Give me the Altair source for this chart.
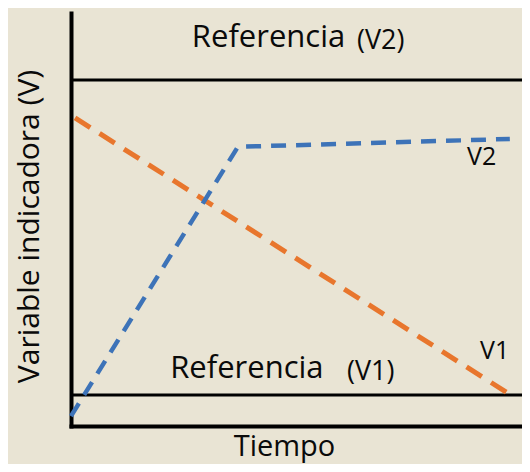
import altair as alt
import pandas as pd

# Series (x = tiempo 0-100, y = variable indicadora 0-100)
v1_time = [0.9, 96.5]
v1_value = [74.6, 8.2]
v2_time = [0.0, 37.0, 97.3]
v2_value = [2.4, 67.6, 69.5]

# Reference levels
ref_names = ["Referencia (V2)", "Referencia (V1)"]
ref_levels = [83.8, 7.5]

# Annotation texts
main_texts = ["Referencia", "Referencia"]
main_x = [26.8, 22.0]
main_y = [91.8, 11.6]
sub_texts = ["(V2)", "(V1)"]
sub_x = [63.4, 61.2]
sub_y = [91.3, 11.1]
series_texts = ["V2", "V1"]
series_x = [87.8, 90.7]
series_y = [63.2, 16.2]

FONT = "Open Sans"
BG = "#E9E4D4"
INK = "#0a0a0a"

v1_df = pd.DataFrame({"t": v1_time, "v": v1_value})
v2_df = pd.DataFrame({"t": v2_time, "v": v2_value})
ref_df = pd.DataFrame({"name": ref_names, "v": ref_levels, "t0": [0] * 2, "t1": [100] * 2})
main_df = pd.DataFrame({"txt": main_texts, "t": main_x, "v": main_y})
sub_df = pd.DataFrame({"txt": sub_texts, "t": sub_x, "v": sub_y})
ser_df = pd.DataFrame({"txt": series_texts, "t": series_x, "v": series_y})

xs = alt.Scale(domain=[0, 100], nice=False, zero=False)
ys = alt.Scale(domain=[0, 100], nice=False, zero=False)

x_axis = alt.Axis(
    title="Tiempo", labels=False, ticks=False, grid=False,
    domainColor="black", domainWidth=4, domainCap="square",
    titleFont=FONT, titleFontSize=29, titleFontWeight="normal", titleColor=INK,
    titleX=213, titleY=29, titleBaseline="alphabetic", titleAlign="center",
)
y_axis = alt.Axis(
    title="Variable indicadora (V)", labels=False, ticks=False, grid=False,
    domainColor="black", domainWidth=4, domainCap="square",
    titleFont=FONT, titleFontSize=30, titleFontWeight="normal", titleColor=INK,
    titleX=-33, titleY=213, titleAngle=-90, titleBaseline="alphabetic", titleAlign="center",
)

base_x = alt.X("t:Q", scale=xs, axis=x_axis)
base_y = alt.Y("v:Q", scale=ys, axis=y_axis)

refs = alt.Chart(ref_df).mark_rule(color="black", strokeWidth=3).encode(
    x=alt.X("t0:Q", scale=xs, axis=x_axis), x2="t1:Q", y=alt.Y("v:Q", scale=ys, axis=y_axis)
)

line_v1 = alt.Chart(v1_df).mark_line(
    color="#E8762D", strokeWidth=5, strokeDash=[18, 11], clip=False
).encode(x=base_x, y=base_y)

line_v2 = alt.Chart(v2_df).mark_line(
    color="#3D73B8", strokeWidth=4.5, strokeDash=[15, 10], clip=False
).encode(x=base_x, y=base_y)

main_txt = alt.Chart(main_df).mark_text(
    font=FONT, fontSize=31, align="left", baseline="alphabetic", color=INK
).encode(x=base_x, y=base_y, text="txt:N")

sub_txt = alt.Chart(sub_df).mark_text(
    font=FONT, fontSize=27, align="left", baseline="alphabetic", color=INK
).encode(x=base_x, y=base_y, text="txt:N")

ser_txt = alt.Chart(ser_df).mark_text(
    font=FONT, fontSize=25, align="left", baseline="alphabetic", color=INK
).encode(x=base_x, y=base_y, text="txt:N")

chart = alt.layer(refs, line_v1, line_v2, main_txt, sub_txt, ser_txt).properties(
    width=451, height=413,
    autosize=alt.AutoSizeParams(type="none"),
    padding={"left": 63, "top": 5, "right": 0, "bottom": 38},
    background=BG,
).configure_view(stroke=None)

chart.save("out.html", embed_options={"renderer": "svg", "actions": False})
